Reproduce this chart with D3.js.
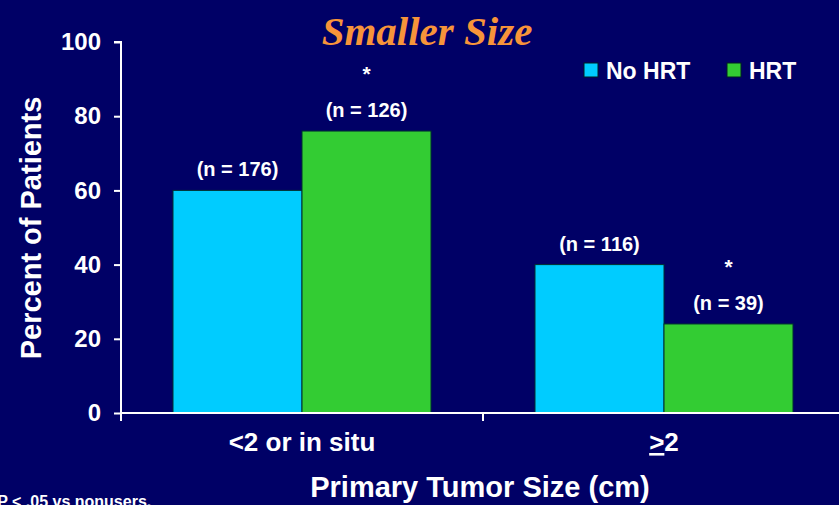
<!DOCTYPE html>
<html><head><meta charset="utf-8">
<script src="https://cdn.jsdelivr.net/npm/d3@7"></script>
<style>body{margin:0;background:#000066;} svg{display:block;}</style>
</head><body>
<script>
const categories = ["<2 or in situ", "≥2"];
const seriesNames = ["No HRT", "HRT"];
const noHRT = [60, 40];
const hrt = [76, 24];
const nNoHRT = [176, 116];
const nHRT = [126, 39];
const sigHRT = [true, true];
const yTicks = [0, 20, 40, 60, 80, 100];
const colors = ["#00CCFF", "#33CC33"];

const W = 839, H = 505;
const svg = d3.select("body").append("svg").attr("width", W).attr("height", H);
svg.append("rect").attr("width", W).attr("height", H).attr("fill", "#000066");

const x0 = 121, x1 = 845, yTop = 42, yBot = 413;
const x = d3.scaleBand().domain(categories).range([x0, x1]).paddingInner(0).paddingOuter(0);
const inner = d3.scaleBand().domain(seriesNames).range([0, 258]);
const y = d3.scaleLinear().domain([0, 100]).range([yBot, yTop]);
const font = "'Liberation Sans', Arial, sans-serif";

const data = categories.map((c, i) => ({cat: c, vals: [
  {s: seriesNames[0], v: noHRT[i], n: nNoHRT[i], sig: false},
  {s: seriesNames[1], v: hrt[i], n: nHRT[i], sig: sigHRT[i]}]}));

const groups = svg.selectAll("g.grp").data(data).join("g")
  .attr("transform", d => `translate(${x(d.cat) + (x.bandwidth() - 258) / 2},0)`);
groups.selectAll("rect").data(d => d.vals).join("rect")
  .attr("x", d => inner(d.s)).attr("width", inner.bandwidth())
  .attr("y", d => y(d.v)).attr("height", d => y(0) - y(d.v))
  .attr("fill", (d, i) => colors[i]).attr("stroke", "#003030").attr("stroke-width", 1);
groups.selectAll("text.n").data(d => d.vals).join("text").attr("class", "n")
  .attr("x", d => inner(d.s) + inner.bandwidth() / 2).attr("y", d => y(d.v) - 14)
  .attr("text-anchor", "middle").attr("fill", "white").attr("font-family", font)
  .attr("font-weight", "bold").attr("font-size", 20).text(d => `(n = ${d.n})`);
groups.selectAll("text.sig").data(d => d.vals.filter(v => v.sig)).join("text").attr("class", "sig")
  .attr("x", d => inner(d.s) + inner.bandwidth() / 2).attr("y", d => y(d.v) - 50)
  .attr("text-anchor", "middle").attr("fill", "white").attr("font-family", font)
  .attr("font-weight", "bold").attr("font-size", 21).text("*");

// Y axis
const yAxis = svg.append("g").attr("transform", `translate(${x0},0)`)
  .call(d3.axisLeft(y).tickValues(yTicks).tickSize(7).tickPadding(13));
yAxis.select(".domain").attr("stroke", "white").attr("stroke-width", 2).attr("d", `M-7,${yTop}H0V${yBot}`);
yAxis.selectAll(".tick line").attr("stroke", "white").attr("stroke-width", 2);
yAxis.selectAll(".tick text").attr("fill", "white").attr("font-family", font)
  .attr("font-weight", "bold").attr("font-size", 24);

// X axis
const xAxis = svg.append("g").attr("transform", `translate(0,${yBot})`)
  .call(d3.axisBottom(x).tickSize(0).tickFormat(() => ""));
xAxis.select(".domain").attr("stroke", "white").attr("stroke-width", 2).attr("d", `M${x0},0H${x1}`);
xAxis.selectAll(".tick text").remove();
const bounds = [x0, x0 + x.bandwidth()];
xAxis.selectAll("line.sep").data(bounds).join("line").attr("class", "sep")
  .attr("x1", d => d).attr("x2", d => d).attr("y1", 0).attr("y2", 8)
  .attr("stroke", "white").attr("stroke-width", 2);
const xl = svg.selectAll("text.xl").data(categories).join("text").attr("class", "xl")
  .attr("x", d => x(d) + x.bandwidth() / 2).attr("y", 451)
  .attr("text-anchor", "middle").attr("fill", "white").attr("font-family", font)
  .attr("font-weight", "bold").attr("font-size", 26);
xl.each(function(d) {
  const t = d3.select(this);
  if (d === "≥2") {
    t.append("tspan").attr("text-decoration", "underline").text(">");
    t.append("tspan").text("2");
  } else t.text(d);
});

// Titles
svg.append("text").attr("x", 427).attr("y", 45).attr("text-anchor", "middle")
  .attr("fill", "#F7943A").attr("font-family", "'Liberation Serif', 'Times New Roman', serif")
  .attr("font-style", "italic").attr("font-weight", "bold").attr("font-size", 41).text("Smaller Size");
svg.append("text").attr("transform", "translate(41,228) rotate(-90)").attr("text-anchor", "middle")
  .attr("fill", "white").attr("font-family", font).attr("font-weight", "bold").attr("font-size", 29)
  .text("Percent of Patients");
svg.append("text").attr("x", 480).attr("y", 497).attr("text-anchor", "middle")
  .attr("fill", "white").attr("font-family", font).attr("font-weight", "bold").attr("font-size", 29)
  .text("Primary Tumor Size (cm)");
svg.append("text").attr("x", -9).attr("y", 507)
  .attr("fill", "white").attr("font-family", font).attr("font-weight", "bold").attr("font-size", 16)
  .text("*P < .05 vs nonusers.");

// Legend
const legX = [584, 727];
const leg = svg.selectAll("g.leg").data(seriesNames).join("g").attr("class", "leg")
  .attr("transform", (d, i) => `translate(${legX[i]},63)`);
leg.append("rect").attr("width", 14).attr("height", 14).attr("fill", (d, i) => colors[i])
  .attr("stroke", "#002020").attr("stroke-width", 1);
leg.append("text").attr("x", 22).attr("y", 16).attr("fill", "white").attr("font-family", font)
  .attr("font-weight", "bold").attr("font-size", 23).text(d => d);
</script>
</body></html>
